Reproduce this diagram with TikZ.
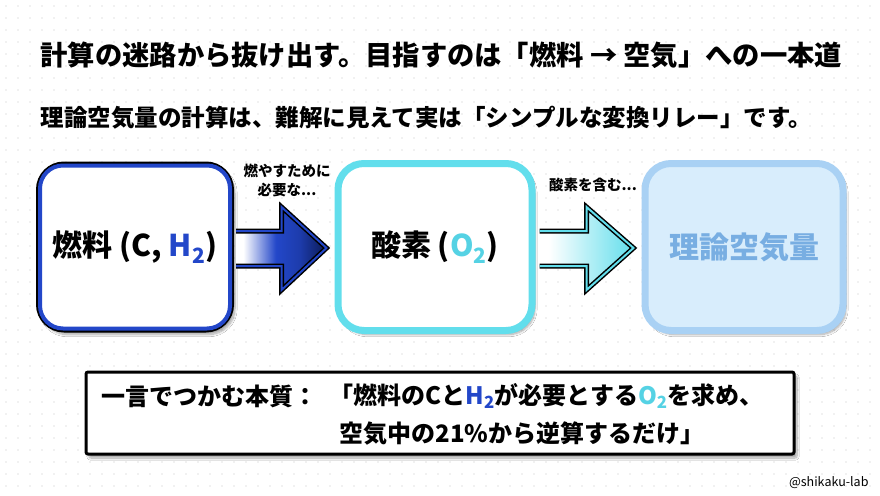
\documentclass[tikz,border=0pt]{standalone}
\usepackage{fontspec}
\setmainfont{Noto Sans CJK JP}
\usetikzlibrary{calc,shadows.blur}
\definecolor{fblue}{HTML}{2347C9}
\definecolor{navy}{HTML}{0B1A55}
\definecolor{oxy}{HTML}{62DEEC}
\definecolor{oxytext}{HTML}{55D2E4}
\definecolor{airfill}{HTML}{D8EDFC}
\definecolor{airline}{HTML}{A9D1F4}
\definecolor{airtext}{HTML}{78AEE2}
\definecolor{dotc}{HTML}{E4E4E4}
\pgfdeclarehorizontalshading{fuelgrad}{100bp}{color(0bp)=(white); color(25bp)=(white); color(29bp)=(white); color(47bp)=(fblue); color(60bp)=(fblue!75!navy); color(75bp)=(navy); color(100bp)=(navy)}
\pgfdeclarehorizontalshading{oxygrad}{100bp}{color(0bp)=(white); color(25bp)=(white); color(30bp)=(white); color(50bp)=(oxy!45!white); color(75bp)=(oxy); color(100bp)=(oxy)}
\newcommand{\subtwo}{\textsubscript{2}}
\tikzset{
  boxbase/.style={minimum width=194pt, minimum height=167pt, rounded corners=26pt,
    blur shadow={shadow xshift=3pt, shadow yshift=-4pt, shadow blur steps=10, shadow opacity=35}},
  boxlabel/.style={font=\fontsize{30}{34}\selectfont\bfseries},
  smalllabel/.style={font=\fontsize{14.5}{19}\selectfont\bfseries, align=center},
  arrowline/.style={line width=5pt, line join=miter, miter limit=10},
  arrowinner/.style={line width=2pt, line join=miter, miter limit=10},
}
\begin{document}
\begin{tikzpicture}[x=1pt,y=-1pt]
\useasboundingbox (0,0) rectangle (880,495);
\fill[white] (0,0) rectangle (880,495);
\foreach \x in {6,18,...,878} \foreach \y in {6,18,...,494} \fill[dotc] (\x,\y) circle (0.8);

\node[anchor=west, font=\fontsize{27.3}{31}\selectfont\bfseries] (title) at (37,55)
  {計算の迷路から抜け出す。目指すのは「燃料 → 空気」への一本道};
\node[anchor=west, font=\fontsize{23.5}{27}\selectfont\bfseries] (sub) at (37,118)
  {理論空気量の計算は、難解に見えて実は「シンプルな変換リレー」です。};

% boxes
\node[boxbase, draw=black, line width=4pt, fill=white] (b1) at (135,247) {};
\draw[fblue, line width=4pt, rounded corners=23pt]
  ($(b1.north west)+(4,4)$) rectangle ($(b1.south east)+(-4,-4)$);
\node[boxlabel] (t1) at (b1.center) {燃料 (C, \textcolor{fblue}{H\subtwo})};

\node[boxbase, draw=oxy, line width=7pt, fill=white] (b2) at (435,247) {};
\node[boxlabel] (t2) at (b2.center) {酸素 (\textcolor{oxytext}{O\subtwo})};

\node[boxbase, minimum width=198pt, draw=airline, line width=7pt, fill=airfill] (b3) at (744,247) {};
\node[boxlabel, text=airtext] (t3) at (b3.center) {理論空気量};

% arrow 1
\coordinate (a1s) at ($(b1.east)+(2,0)$);
\coordinate (a1t) at ($(b2.west)+(-8,1)$);
\path[shading=fuelgrad]
  ($(a1s)+(0,-16)$) -- ($(a1t)+(-45,-17)$) -- ($(a1t)+(-45,-41)$) -- (a1t)
  -- ($(a1t)+(-45,42)$) -- ($(a1t)+(-45,18)$) -- ($(a1s)+(0,19)$) -- cycle;
\draw[arrowline, black]
  ($(a1s)+(0,-16)$) -- ($(a1t)+(-45,-17)$) -- ($(a1t)+(-45,-41)$) -- (a1t)
  -- ($(a1t)+(-45,42)$) -- ($(a1t)+(-45,18)$) -- ($(a1s)+(0,19)$);
\draw[arrowinner, fblue]
  ($(a1s)+(0,-16)$) -- ($(a1t)+(-45,-17)$) -- ($(a1t)+(-45,-41)$) -- (a1t)
  -- ($(a1t)+(-45,42)$) -- ($(a1t)+(-45,18)$) -- ($(a1s)+(0,19)$);
\node[smalllabel] (l1) at (287,180) {燃やすために\\必要な...};

% arrow 2
\coordinate (a2s) at ($(b2.east)+(4,0)$);
\coordinate (a2t) at ($(b3.west)+(-8,1)$);
\path[shading=oxygrad]
  ($(a2s)+(0,-16)$) -- ($(a2t)+(-47,-17)$) -- ($(a2t)+(-47,-41)$) -- (a2t)
  -- ($(a2t)+(-47,42)$) -- ($(a2t)+(-47,18)$) -- ($(a2s)+(0,19)$) -- cycle;
\draw[arrowline, black]
  ($(a2s)+(0,-16)$) -- ($(a2t)+(-47,-17)$) -- ($(a2t)+(-47,-41)$) -- (a2t)
  -- ($(a2t)+(-47,42)$) -- ($(a2t)+(-47,18)$) -- ($(a2s)+(0,19)$);
\draw[arrowinner, oxy]
  ($(a2s)+(0,-16)$) -- ($(a2t)+(-47,-17)$) -- ($(a2t)+(-47,-41)$) -- (a2t)
  -- ($(a2t)+(-47,42)$) -- ($(a2t)+(-47,18)$) -- ($(a2s)+(0,19)$);
\node[smalllabel] (l2) at (593,185) {酸素を含む...};

% summary box
\node[draw=black, line width=3pt, fill=white, minimum width=708pt, minimum height=82pt,
  rounded corners=2pt,
  blur shadow={shadow xshift=3pt, shadow yshift=-4pt, shadow blur steps=10, shadow opacity=35}]
  (sum) at (440,413) {};
\node[anchor=west, font=\fontsize{24}{28}\selectfont\bfseries] (s1) at (98,396) {一言でつかむ本質：};
\node[anchor=west, font=\fontsize{24}{28}\selectfont\bfseries] (s2) at (326,396)
  {「燃料のCと\textcolor{fblue}{H\subtwo}が必要とする\textcolor{oxytext}{O\subtwo}を求め、};
\node[anchor=west, font=\fontsize{24}{28}\selectfont\bfseries] (s3) at (336,433)
  {空気中の21\%から逆算するだけ」};

\node[anchor=east, font=\fontsize{12.5}{15}\selectfont] (wm) at (872,483) {@shikaku-lab};
\end{tikzpicture}
\end{document}
